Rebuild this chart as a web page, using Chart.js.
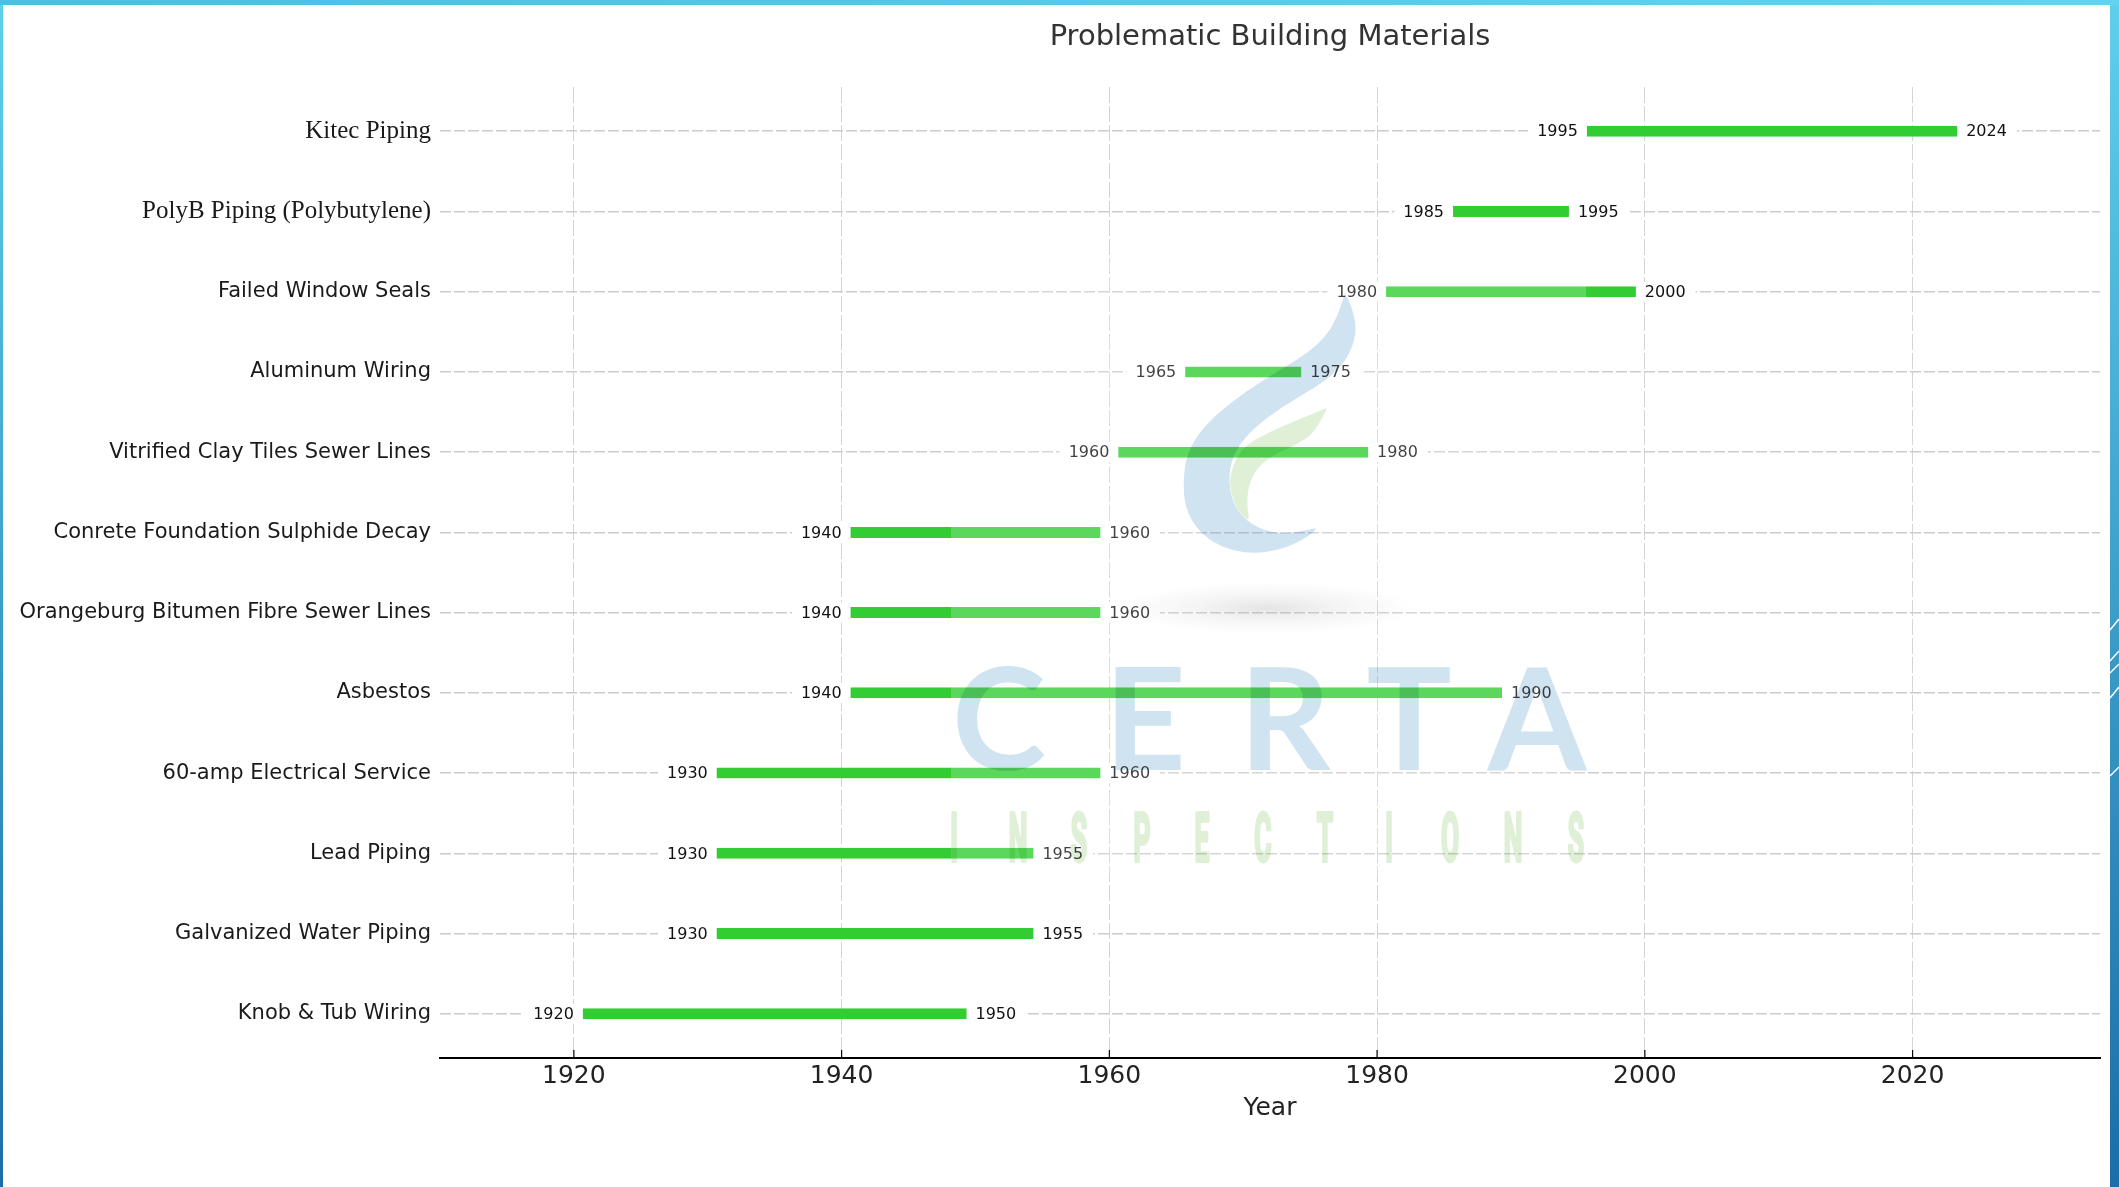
<!DOCTYPE html>
<html>
<head>
<meta charset="utf-8">
<script src="https://cdn.jsdelivr.net/npm/chart.js@4.4.1/dist/chart.umd.min.js"></script>
<style>
  html, body { margin: 0; padding: 0; background: #fff; }
  #wrap { position: relative; width: 2119px; height: 1187px; }
</style>
</head>
<body>
<div id="wrap"><canvas id="materialsChart"></canvas></div>
<script>
// top to bottom, as on the chart
const materials = [
  'Kitec Piping',
  'PolyB Piping (Polybutylene)',
  'Failed Window Seals',
  'Aluminum Wiring',
  'Vitrified Clay Tiles Sewer Lines',
  'Conrete Foundation Sulphide Decay',
  'Orangeburg Bitumen Fibre Sewer Lines',
  'Asbestos',
  '60-amp Electrical Service',
  'Lead Piping',
  'Galvanized Water Piping',
  'Knob & Tub Wiring'
];
const startYears = [1995, 1985, 1980, 1965, 1960, 1940, 1940, 1940, 1930, 1930, 1930, 1920];
const endYears   = [2024, 1995, 2000, 1975, 1980, 1960, 1960, 1990, 1960, 1955, 1955, 1950];
const yearTicks = [1920, 1940, 1960, 1980, 2000, 2020];
const serifLabels = ['Kitec Piping', 'PolyB Piping (Polybutylene)'];
const chartTitle = 'Problematic Building Materials';

// title centred over the plot area (not the whole canvas)
const plotTitle = {
  id: 'plotTitle',
  afterDraw(chart) {
    const { ctx, chartArea } = chart;
    ctx.save();
    ctx.font = '29px "DejaVu Sans"';
    ctx.fillStyle = '#333';
    ctx.textAlign = 'center';
    ctx.textBaseline = 'middle';
    ctx.fillText(chartTitle, (chartArea.left + chartArea.right) / 2, 37);
    ctx.restore();
  }
};

// year labels at both ends of each bar, plus inward tick marks on the x axis
const barLabels = {
  id: 'barLabels',
  afterDatasetsDraw(chart) {
    const { ctx, scales: { x, y }, chartArea } = chart;
    ctx.save();
    ctx.strokeStyle = '#000';
    ctx.lineWidth = 1.2;
    yearTicks.forEach(v => {
      const px = x.getPixelForValue(v);
      ctx.beginPath();
      ctx.moveTo(px, chartArea.bottom);
      ctx.lineTo(px, chartArea.bottom - 8);
      ctx.stroke();
    });
    ctx.font = '16px "DejaVu Sans"';
    ctx.textBaseline = 'middle';
    materials.forEach((m, i) => {
      const yy = y.getPixelForValue(i);
      const xs = x.getPixelForValue(startYears[i]);
      const xe = x.getPixelForValue(endYears[i]);
      const s = String(startYears[i]), e = String(endYears[i]);
      const ws = ctx.measureText(s).width, we = ctx.measureText(e).width;
      ctx.fillStyle = '#fff';
      ctx.fillRect(xs - ws - 9, yy - 10, ws + 14, 20);
      ctx.fillRect(xe - 4, yy - 10, we + 14, 20);
      ctx.fillStyle = '#111';
      ctx.textAlign = 'right';
      ctx.fillText(s, xs, yy + 1);
      ctx.textAlign = 'left';
      ctx.fillText(e, xe, yy + 1);
    });
    ctx.restore();
  }
};

function smoothPath(ctx, pts) {
  ctx.moveTo(pts[0][0], pts[0][1]);
  for (let i = 1; i < pts.length - 1; i++) {
    const mx = (pts[i][0] + pts[i + 1][0]) / 2, my = (pts[i][1] + pts[i + 1][1]) / 2;
    ctx.quadraticCurveTo(pts[i][0], pts[i][1], mx, my);
  }
  const last = pts[pts.length - 1];
  ctx.lineTo(last[0], last[1]);
}

// faded company logo sitting over the plot
const watermark = {
  id: 'watermark',
  afterDatasetsDraw(chart) {
    const ctx = chart.ctx;
    ctx.save();
    ctx.fillStyle = 'rgba(255,255,255,0.2)';
    ctx.fillRect(951, 262, 635, 615);

    ctx.save();
    ctx.translate(1268, 608);
    ctx.scale(150, 26);
    const g = ctx.createRadialGradient(0, 0, 0, 0, 0, 1);
    g.addColorStop(0, 'rgba(0,0,0,0.10)');
    g.addColorStop(0.5, 'rgba(0,0,0,0.04)');
    g.addColorStop(1, 'rgba(0,0,0,0)');
    ctx.fillStyle = g;
    ctx.beginPath();
    ctx.arc(0, 0, 1, 0, Math.PI * 2);
    ctx.fill();
    ctx.restore();

    // logo drawn on its own layer, then multiplied onto the chart once
    const off = document.createElement('canvas');
    off.width = ctx.canvas.width;
    off.height = ctx.canvas.height;
    const o = off.getContext('2d');

    o.fillStyle = '#cfe3f1';
    o.beginPath();
    smoothPath(o, [[1345, 293], [1337, 320], [1320, 343], [1297, 360], [1263, 380], [1230, 403],
      [1203, 427], [1187, 453], [1183, 480], [1185, 507], [1197, 530], [1220, 547], [1250, 554],
      [1280, 550], [1303, 540], [1320, 527], [1303, 531], [1280, 534], [1257, 528], [1238, 513],
      [1229, 490], [1230, 463], [1242, 440], [1267, 417], [1297, 398], [1327, 380], [1347, 360],
      [1357, 333], [1353, 310], [1345, 293]]);
    o.closePath();
    o.fill();

    o.fillStyle = '#dff0d7';
    o.beginPath();
    smoothPath(o, [[1327, 408], [1317, 430], [1300, 443], [1277, 453], [1257, 467], [1248, 487],
      [1247, 507], [1250, 523], [1237, 510], [1229, 487], [1232, 467], [1243, 447], [1267, 433],
      [1297, 420], [1327, 408]]);
    o.closePath();
    o.fill();

    o.fillStyle = '#cfe3f1';
    o.font = 'bold 142px Lato';
    o.textAlign = 'center';
    o.textBaseline = 'alphabetic';
    const certa = ['C', 'E', 'R', 'T', 'A'];
    const certaX = [999, 1145, 1285, 1409, 1537];
    certa.forEach((c, i) => o.fillText(c, certaX[i], 770));

    o.fillStyle = '#dff0d7';
    o.strokeStyle = '#dff0d7';
    o.lineWidth = 4;
    o.lineJoin = 'round';
    o.font = 'bold 66px Roboto';
    const insp = 'INSPECTIONS'.split('');
    const inspX = [954, 1018, 1079, 1142, 1202, 1263, 1325, 1389, 1450, 1513, 1576];
    insp.forEach((c, i) => {
      o.save();
      o.translate(inspX[i], 861);
      o.scale(0.4, 1);
      o.fillText(c, 0, 0);
      o.strokeText(c, 0, 0);
      o.restore();
    });

    ctx.globalCompositeOperation = 'multiply';
    ctx.drawImage(off, 0, 0);
    ctx.restore();
  }
};

// slide border
const frame = {
  id: 'frame',
  afterDraw(chart) {
    const { ctx, width, height } = chart;
    ctx.save();
    const g = ctx.createLinearGradient(0, 0, 0, height);
    g.addColorStop(0, '#5fd0ec');
    g.addColorStop(1, '#1b6ea8');
    ctx.fillStyle = g;
    ctx.fillRect(width - 9, 0, 9, height);
    ctx.fillRect(0, 0, 3, height);
    const gt = ctx.createLinearGradient(0, 0, width, 0);
    gt.addColorStop(0, '#4bbfe0');
    gt.addColorStop(1, '#62d2ee');
    ctx.fillStyle = gt;
    ctx.fillRect(0, 0, width, 5);
    ctx.strokeStyle = '#fff';
    ctx.lineWidth = 1.5;
    [[630, 619], [661, 651], [673, 664], [698, 687], [776, 767]].forEach(([a, b]) => {
      ctx.beginPath();
      ctx.moveTo(width - 9, a);
      ctx.lineTo(width, b);
      ctx.stroke();
    });
    ctx.restore();
  }
};

const chartCtx = document.getElementById('materialsChart').getContext('2d');

const materialsChart = new Chart(chartCtx, {
  type: 'bar',
  data: {
    datasets: [{
      data: materials.map((m, i) => ({ y: i, x: [startYears[i], endYears[i]] })),
      backgroundColor: '#32cd32',
      borderColor: '#ffffff',
      borderWidth: { left: 9, right: 9, top: 0, bottom: 0 },
      borderSkipped: false,
      barThickness: 11,
      inflateAmount: 0
    }]
  },
  options: {
    indexAxis: 'y',
    responsive: true,
    maintainAspectRatio: false,
    animation: false,
    layout: { padding: { left: 19, right: 19, top: 87, bottom: 64 } },
    plugins: {
      legend: { display: false },
      tooltip: { enabled: false },
      title: { display: false }
    },
    scales: {
      x: {
        type: 'linear',
        position: 'bottom',
        min: 1910,
        max: 2034,
        afterBuildTicks: s => { s.ticks = yearTicks.map(v => ({ value: v })); },
        afterFit: s => { s.height = 65; },
        grid: { color: '#d4d4d4', lineWidth: 1, drawTicks: false },
        border: { display: true, color: '#000', width: 2, dash: [16, 3] },
        ticks: {
          color: '#222',
          padding: 3,
          font: { family: 'DejaVu Sans', size: 25 },
          callback: v => String(v)
        },
        title: {
          display: true,
          text: 'Year',
          color: '#222',
          font: { family: 'DejaVu Sans', size: 25 },
          padding: { top: 0, bottom: 0 }
        }
      },
      y: {
        type: 'linear',
        reverse: true,
        min: -0.55,
        max: 11.55,
        offset: false,
        afterBuildTicks: s => { s.ticks = materials.map((m, i) => ({ value: i })); },
        afterFit: s => { s.width = 421; },
        grid: { color: '#cccccc', lineWidth: 1.5, drawTicks: false, offset: false },
        border: { display: false, dash: [11, 3] },
        ticks: {
          color: '#1a1a1a',
          padding: 9,
          font: c => serifLabels.includes(materials[c.tick ? c.tick.value : 0])
            ? { family: 'Liberation Serif', size: 25 }
            : { family: 'DejaVu Sans', size: 21 },
          callback: v => materials[v]
        }
      }
    }
  },
  plugins: [barLabels, watermark, frame, plotTitle]
});
</script>
</body>
</html>
